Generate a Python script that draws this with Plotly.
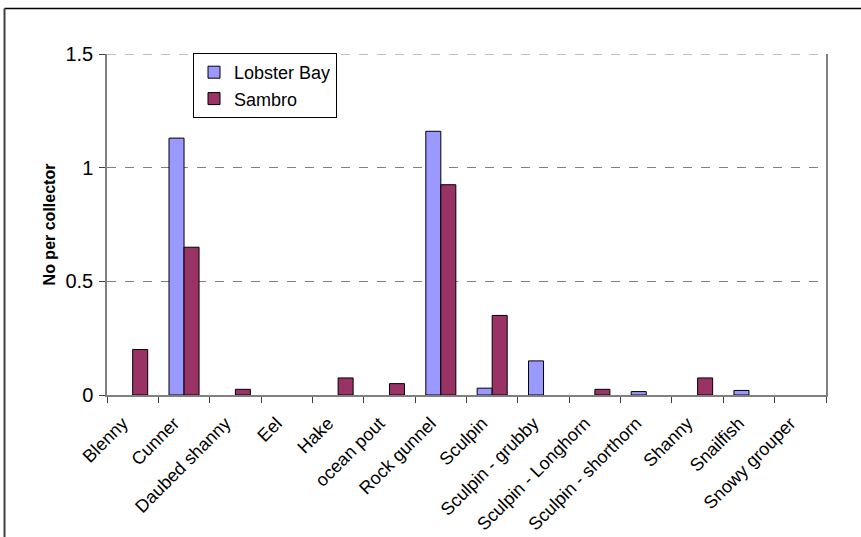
import plotly.graph_objects as go

species = [
    "Blenny", "Cunner", "Daubed shanny", "Eel", "Hake", "ocean pout",
    "Rock gunnel", "Sculpin", "Sculpin - grubby", "Sculpin - Longhorn",
    "Sculpin - shorthorn", "Shanny", "Snailfish", "Snowy grouper",
]
lobster_bay = [0, 1.13, 0, 0, 0, 0, 1.16, 0.03, 0.15, 0, 0.015, 0, 0.02, 0]
sambro = [0.2, 0.65, 0.025, 0, 0.075, 0.05, 0.925, 0.35, 0, 0.025, 0, 0.075, 0, 0]
y_ticks = [0, 0.5, 1, 1.5]
y_tick_text = ["0", "0.5", "1", "1.5"]

FONT = "Arial, 'Liberation Sans', sans-serif"
W, H = 861, 537
L, R, T, B = 107, 35, 54, 142
PW, PH = W - L - R, H - T - B


def px_x(x):
    return (x - L) / PW


def px_y(y):
    return (H - B - y) / PH


def nonzero(values):
    # empty categories get no bar at all (not even a flat outline)
    return [v if v else None for v in values]


fig = go.Figure()
fig.add_trace(go.Bar(
    name="Lobster Bay", x=species, y=nonzero(lobster_bay),
    marker=dict(color="#9999FF", line=dict(color="black", width=1)),
))
fig.add_trace(go.Bar(
    name="Sambro", x=species, y=nonzero(sambro),
    marker=dict(color="#993366", line=dict(color="black", width=1)),
))

# dashed grid line along the top of the value range
fig.add_shape(type="line", xref="paper", yref="y", layer="below",
              x0=0, x1=1, y0=y_ticks[-1], y1=y_ticks[-1],
              line=dict(color="#808080", width=1, dash="dash"))

# frame lines around the chart area (left and top edges)
fig.add_shape(type="line", xref="paper", yref="paper",
              x0=px_x(4.5), x1=px_x(861), y0=px_y(8.5), y1=px_y(8.5),
              line=dict(color="black", width=1.5))
fig.add_shape(type="line", xref="paper", yref="paper",
              x0=px_x(4.5), x1=px_x(4.5), y0=px_y(8.5), y1=px_y(537),
              line=dict(color="#404040", width=2))

fig.update_layout(
    width=W, height=H,
    margin=dict(l=L, r=R, t=T, b=B, autoexpand=False),
    paper_bgcolor="white", plot_bgcolor="white",
    barmode="group", bargap=0.415, bargroupgap=0,
    font=dict(family=FONT, color="black", size=18),
    showlegend=True,
    legend=dict(
        x=px_x(193), y=px_y(53), xanchor="left", yanchor="top",
        bgcolor="white", bordercolor="black", borderwidth=1,
        font=dict(family=FONT, size=18, color="black"),
        tracegroupgap=0, itemwidth=30,
    ),
    xaxis=dict(
        type="category", tickangle=-45, tickson="boundaries",
        ticks="outside", ticklen=6, tickcolor="#404040",
        ticklabelstandoff=9, ticklabelshift=-10, automargin=False,
        showline=True, linecolor="#808080", linewidth=1.5,
        showgrid=False, tickfont=dict(family=FONT, size=18),
    ),
    yaxis=dict(
        range=[0, 1.5], tickvals=y_ticks, ticktext=y_tick_text,
        ticks="outside", ticklen=6, tickcolor="#404040",
        ticklabelstandoff=2, automargin=False,
        showline=True, linecolor="#808080", linewidth=1.5, mirror=True,
        showgrid=True, gridcolor="#808080", griddash="dash", gridwidth=1,
        zeroline=False, tickfont=dict(family=FONT, size=20),
        title=dict(text="<b>No per collector</b>", standoff=6,
                   font=dict(family=FONT, size=16)),
    ),
)

fig.write_html("out.html")
